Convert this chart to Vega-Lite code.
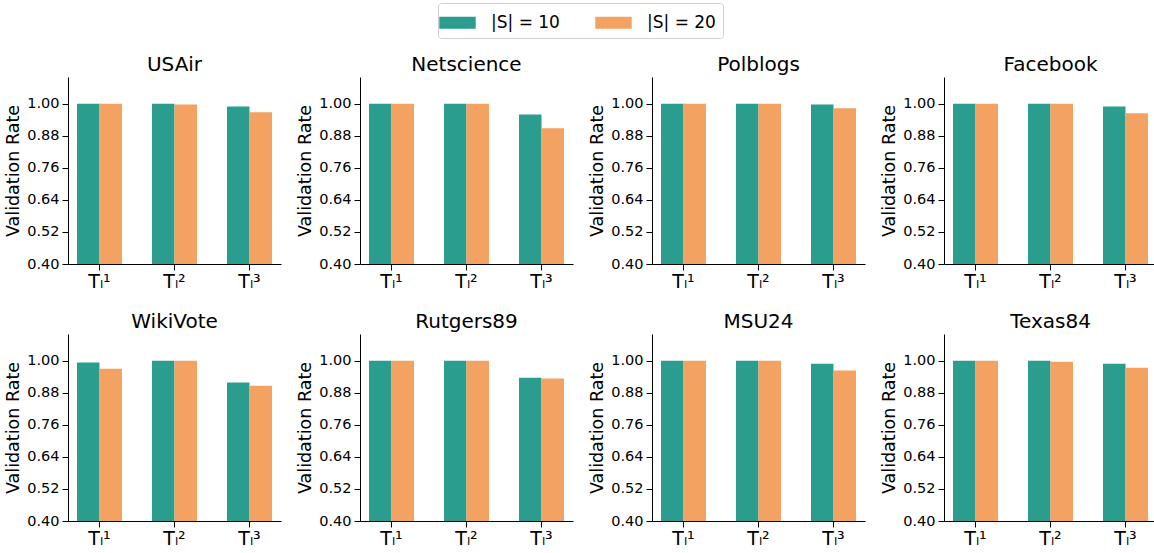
{
  "$schema": "https://vega.github.io/schema/vega-lite/v6.json",
  "padding": {"left": 4, "top": 2, "right": 0, "bottom": 3},
  "background": "white",
  "data": {"values": [
    {"d":"USAir","t":"Tₗ¹","s":"|S| = 10","v":1.0},{"d":"USAir","t":"Tₗ¹","s":"|S| = 20","v":1.0},
    {"d":"USAir","t":"Tₗ²","s":"|S| = 10","v":1.0},{"d":"USAir","t":"Tₗ²","s":"|S| = 20","v":0.997},
    {"d":"USAir","t":"Tₗ³","s":"|S| = 10","v":0.99},{"d":"USAir","t":"Tₗ³","s":"|S| = 20","v":0.968},
    {"d":"Netscience","t":"Tₗ¹","s":"|S| = 10","v":1.0},{"d":"Netscience","t":"Tₗ¹","s":"|S| = 20","v":1.0},
    {"d":"Netscience","t":"Tₗ²","s":"|S| = 10","v":1.0},{"d":"Netscience","t":"Tₗ²","s":"|S| = 20","v":1.0},
    {"d":"Netscience","t":"Tₗ³","s":"|S| = 10","v":0.96},{"d":"Netscience","t":"Tₗ³","s":"|S| = 20","v":0.908},
    {"d":"Polblogs","t":"Tₗ¹","s":"|S| = 10","v":1.0},{"d":"Polblogs","t":"Tₗ¹","s":"|S| = 20","v":1.0},
    {"d":"Polblogs","t":"Tₗ²","s":"|S| = 10","v":1.0},{"d":"Polblogs","t":"Tₗ²","s":"|S| = 20","v":1.0},
    {"d":"Polblogs","t":"Tₗ³","s":"|S| = 10","v":0.997},{"d":"Polblogs","t":"Tₗ³","s":"|S| = 20","v":0.983},
    {"d":"Facebook","t":"Tₗ¹","s":"|S| = 10","v":1.0},{"d":"Facebook","t":"Tₗ¹","s":"|S| = 20","v":1.0},
    {"d":"Facebook","t":"Tₗ²","s":"|S| = 10","v":1.0},{"d":"Facebook","t":"Tₗ²","s":"|S| = 20","v":1.0},
    {"d":"Facebook","t":"Tₗ³","s":"|S| = 10","v":0.99},{"d":"Facebook","t":"Tₗ³","s":"|S| = 20","v":0.964},
    {"d":"WikiVote","t":"Tₗ¹","s":"|S| = 10","v":0.993},{"d":"WikiVote","t":"Tₗ¹","s":"|S| = 20","v":0.97},
    {"d":"WikiVote","t":"Tₗ²","s":"|S| = 10","v":1.0},{"d":"WikiVote","t":"Tₗ²","s":"|S| = 20","v":1.0},
    {"d":"WikiVote","t":"Tₗ³","s":"|S| = 10","v":0.918},{"d":"WikiVote","t":"Tₗ³","s":"|S| = 20","v":0.906},
    {"d":"Rutgers89","t":"Tₗ¹","s":"|S| = 10","v":1.0},{"d":"Rutgers89","t":"Tₗ¹","s":"|S| = 20","v":1.0},
    {"d":"Rutgers89","t":"Tₗ²","s":"|S| = 10","v":1.0},{"d":"Rutgers89","t":"Tₗ²","s":"|S| = 20","v":1.0},
    {"d":"Rutgers89","t":"Tₗ³","s":"|S| = 10","v":0.936},{"d":"Rutgers89","t":"Tₗ³","s":"|S| = 20","v":0.933},
    {"d":"MSU24","t":"Tₗ¹","s":"|S| = 10","v":1.0},{"d":"MSU24","t":"Tₗ¹","s":"|S| = 20","v":1.0},
    {"d":"MSU24","t":"Tₗ²","s":"|S| = 10","v":1.0},{"d":"MSU24","t":"Tₗ²","s":"|S| = 20","v":1.0},
    {"d":"MSU24","t":"Tₗ³","s":"|S| = 10","v":0.989},{"d":"MSU24","t":"Tₗ³","s":"|S| = 20","v":0.963},
    {"d":"Texas84","t":"Tₗ¹","s":"|S| = 10","v":1.0},{"d":"Texas84","t":"Tₗ¹","s":"|S| = 20","v":1.0},
    {"d":"Texas84","t":"Tₗ²","s":"|S| = 10","v":1.0},{"d":"Texas84","t":"Tₗ²","s":"|S| = 20","v":0.996},
    {"d":"Texas84","t":"Tₗ³","s":"|S| = 10","v":0.989},{"d":"Texas84","t":"Tₗ³","s":"|S| = 20","v":0.974}
  ]},
  "facet": {
    "field": "d",
    "type": "nominal",
    "sort": ["USAir","Netscience","Polblogs","Facebook","WikiVote","Rutgers89","MSU24","Texas84"],
    "title": null,
    "header": {"labelFontSize": 20, "labelFont": "DejaVu Sans", "labelColor": "black", "labelPadding": 2}
  },
  "columns": 4,
  "spacing": {"column": 15, "row": 21},
  "resolve": {"axis": {"x": "independent", "y": "independent"}},
  "spec": {
    "width": 213,
    "height": 187,
    "mark": {"type": "bar"},
    "encoding": {
      "x": {
        "field": "t", "type": "nominal", "title": null, "sort": ["Tₗ¹", "Tₗ²", "Tₗ³"],
        "scale": {"paddingInner": 0.4, "paddingOuter": 0.12},
        "axis": {"labelAngle": 0, "labelFontSize": 19, "labelFont": "DejaVu Sans", "labelColor": "black", "domainColor": "black", "tickColor": "black", "tickSize": 6, "labelPadding": 2}
      },
      "xOffset": {"field": "s", "type": "nominal", "sort": ["|S| = 10", "|S| = 20"]},
      "y": {
        "field": "v", "type": "quantitative", "title": "Validation Rate",
        "scale": {"domain": [0.4, 1.1], "nice": false, "zero": false},
        "axis": {"values": [0.4, 0.52, 0.64, 0.76, 0.88, 1.0], "format": ".2f", "grid": false, "labelFontSize": 14.5, "labelFont": "DejaVu Sans", "labelColor": "black", "titleFontSize": 17.5, "titleFont": "DejaVu Sans", "titleFontWeight": "normal", "titleColor": "black", "domainColor": "black", "tickColor": "black", "tickSize": 6, "labelPadding": 3, "titlePadding": 4}
      },
      "y2": {"datum": 0.4},
      "color": {
        "field": "s", "type": "nominal", "sort": ["|S| = 10", "|S| = 20"],
        "scale": {"domain": ["|S| = 10", "|S| = 20"], "range": ["#2a9d8f", "#f4a261"]},
        "legend": {
          "title": null, "orient": "none", "direction": "horizontal", "legendX": 370, "legendY": -74,
          "labelFontSize": 17, "labelFont": "DejaVu Sans", "labelColor": "black",
          "symbolType": "M-1.5,-0.5H1.5V0.5H-1.5Z", "symbolSize": 590, "symbolStrokeWidth": 0,
          "columnPadding": 35, "labelOffset": 21,
          "strokeColor": "#d0d0d0", "padding": 7, "cornerRadius": 3, "fillColor": "white"
        }
      }
    }
  },
  "config": {"view": {"stroke": null}, "font": "DejaVu Sans"}
}
